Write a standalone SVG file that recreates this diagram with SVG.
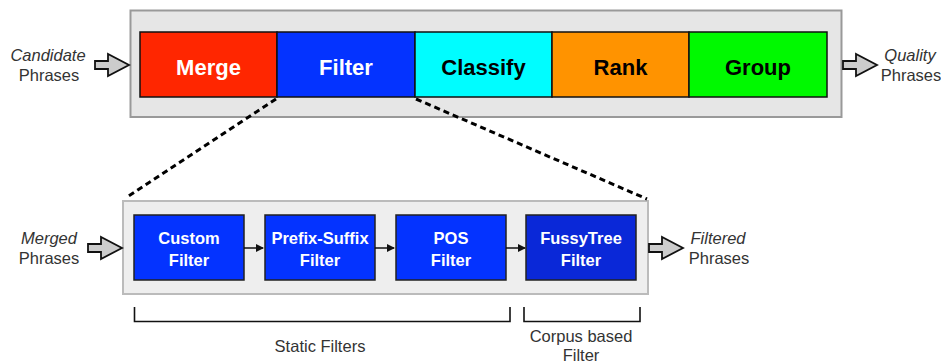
<svg xmlns="http://www.w3.org/2000/svg" width="941" height="364" viewBox="0 0 941 364">
<defs>
<style>
.stage{stroke:#111;stroke-width:1.5}
.big{font-family:"Liberation Sans",Arial,sans-serif;font-weight:bold;font-size:22px;text-anchor:middle}
.small{font-family:"Liberation Sans",Arial,sans-serif;font-weight:bold;font-size:16.5px;text-anchor:middle;fill:#fff}
.lbl{font-family:"Liberation Sans",Arial,sans-serif;font-size:16.5px;text-anchor:middle;fill:#333}
.it{font-style:italic;font-size:16.5px}
.fbox{stroke:#222;stroke-width:1.5}
.barrow{fill:#cccccc;stroke:#111;stroke-width:1.8;stroke-linejoin:miter}
.dash{stroke:#000;stroke-width:3;stroke-dasharray:6 4;fill:none}
.bracket{stroke:#111;stroke-width:1.6;fill:none}
.conn{stroke:#111;stroke-width:1.5;fill:none}
</style>
<marker id="ah" markerWidth="8" markerHeight="8" refX="7" refY="4" orient="auto" markerUnits="userSpaceOnUse">
<path d="M0,0 L8,4 L0,8 Z" fill="#111"/>
</marker>
<path id="bigarrow" d="M0,-4 L13,-4 L13,-11 L34,0 L13,11 L13,4 L0,4 Z"/>
</defs>

<g id="pipeline">
<rect x="130.5" y="10.5" width="711" height="106.5" fill="#e6e6e6" stroke="#999" stroke-width="2"/>
</g>
<g id="merge"><rect class="stage" x="140" y="32" width="137" height="65" fill="#ff2600"/><text class="big" x="208.5" y="75" fill="#fff">Merge</text></g>
<g id="filter"><rect class="stage" x="277" y="32" width="138" height="65" fill="#0433ff"/><text class="big" x="346" y="75" fill="#fff">Filter</text></g>
<g id="classify"><rect class="stage" x="415" y="32" width="137" height="65" fill="#00fdff"/><text class="big" x="483.5" y="75" fill="#000">Classify</text></g>
<g id="rank"><rect class="stage" x="552" y="32" width="137" height="65" fill="#ff9300"/><text class="big" x="620.5" y="75" fill="#000">Rank</text></g>
<g id="group"><rect class="stage" x="689" y="32" width="138" height="65" fill="#00f900"/><text class="big" x="758" y="75" fill="#000">Group</text></g>

<g id="candidate">
<text class="lbl it" x="48" y="61">Candidate</text>
<text class="lbl" x="49" y="81">Phrases</text>
</g>
<g id="quality">
<text class="lbl it" x="910" y="61">Quality</text>
<text class="lbl" x="911" y="81">Phrases</text>
</g>

<g id="filterstage">
<rect x="123" y="201" width="525" height="93" fill="#eeeeee" stroke="#bbb" stroke-width="2"/>
</g>
<g id="custom"><rect class="fbox" x="134" y="215" width="110" height="65" fill="#0433ff"/><text class="small" x="189" y="244">Custom</text><text class="small" x="189" y="266">Filter</text></g>
<g id="prefix"><rect class="fbox" x="265" y="215" width="110" height="65" fill="#0433ff"/><text class="small" x="320" y="244">Prefix-Suffix</text><text class="small" x="320" y="266">Filter</text></g>
<g id="pos"><rect class="fbox" x="396" y="215" width="110" height="65" fill="#0433ff"/><text class="small" x="451" y="244">POS</text><text class="small" x="451" y="266">Filter</text></g>
<g id="fussy"><rect class="fbox" x="526" y="215" width="110" height="65" fill="#0a28d8"/><text class="small" x="581" y="244">FussyTree</text><text class="small" x="581" y="266">Filter</text></g>

<g id="merged">
<text class="lbl it" x="49" y="244">Merged</text>
<text class="lbl" x="49" y="264">Phrases</text>
</g>
<g id="filtered">
<text class="lbl it" x="718" y="244">Filtered</text>
<text class="lbl" x="719" y="264">Phrases</text>
</g>

<g id="static">
<path class="bracket" d="M134.5,307 V321.5 H510 V307"/>
<text class="lbl" x="320" y="352">Static Filters</text>
</g>
<g id="corpus">
<path class="bracket" d="M524,307 V321.5 H640 V307"/>
<text class="lbl" x="581" y="342">Corpus based</text>
<text class="lbl" x="581" y="361">Filter</text>
</g>

<g id="connectors">
<use href="#bigarrow" class="barrow" transform="translate(95,65)"/>
<use href="#bigarrow" class="barrow" transform="translate(843,65)"/>
<use href="#bigarrow" class="barrow" transform="translate(88,248)"/>
<use href="#bigarrow" class="barrow" transform="translate(649,248)"/>
<path class="dash" d="M276,99 L127,197"/>
<path class="dash" d="M416,99 L647,199"/>
<path class="conn" d="M244,248 H263" marker-end="url(#ah)"/>
<path class="conn" d="M375,248 H394" marker-end="url(#ah)"/>
<path class="conn" d="M506,248 H525" marker-end="url(#ah)"/>
</g>
</svg>
